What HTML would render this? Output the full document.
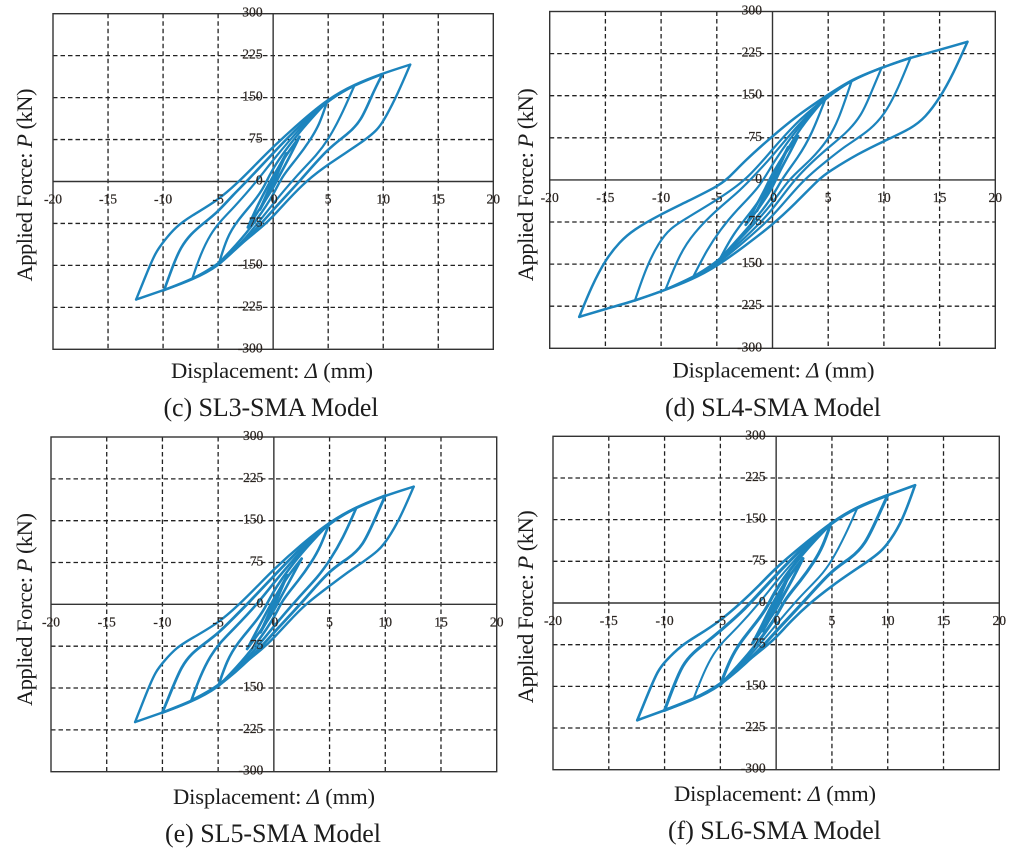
<!DOCTYPE html>
<html lang="en">
<head>
<meta charset="utf-8">
<title>Hysteresis curves of SL3 to SL6 SMA models</title>
<style>
html,body{margin:0;padding:0;background:#fff;width:1024px;height:858px;overflow:hidden}
svg{display:block;filter:blur(0.35px)}
text{font-family:"Liberation Serif",serif;fill:#1c1c1c}
.tick{font-size:13.6px;fill:#2a2420;stroke:#2a2420;stroke-width:0.2px}
.axis-title{font-size:22.6px}
.caption{font-size:26px}
</style>
</head>
<body>
<svg id="figure" xmlns="http://www.w3.org/2000/svg" width="1024" height="858" viewBox="0 0 1024 858"></svg>
<script>
const xTickLabels = [-20, -15, -10, -5, 0, 5, 10, 15, 20];
const yTickLabels = [300, 225, 150, 75, 0, -75, -150, -225, -300];

const sl3Reload = [
  [[-1.2,-50],[-0.5,-20],[0.2,15],[1.2,50]],
  [[-2.3,-82],[-1.5,-46],[-0.6,-12],[0,10],[1.2,48],[2.4,80]],
  [[-4.9,-145],[-4.2,-100],[-3.3,-71],[-1.7,-35],[-0.8,-10],[0,27],[2.5,92],[4.9,143]],
  [[-7.35,-174],[-6.6,-130],[-5.7,-94],[-4.8,-71],[-3.6,-47],[-1.7,-5],[0,39],[2.5,97],[4.9,145],[7.4,172]],
  [[-9.9,-194],[-9,-145],[-8.4,-118],[-7.5,-94],[-6.3,-74],[-5.1,-56],[-3.6,-23],[-2.4,0],[0,51],[2.5,102],[5,146],[7.4,173],[9.9,192]],
  [[-12.45,-211],[-11.4,-160],[-10.7,-127],[-9.9,-106],[-8.9,-82],[-7.5,-62],[-5.1,-35],[-3.2,-2],[-1.5,32],[0,62],[2.5,107],[5,148],[7.4,174],[9.9,193],[12.45,209]]
];
const sl3Unload = [
  [[1.2,50],[0.5,20],[-0.2,-15],[-1.2,-50]],
  [[2.4,80],[1.5,44],[0.6,12],[0,-12],[-1.2,-48],[-2.3,-82]],
  [[4.8,137],[4.2,102],[3.4,75],[2.2,42],[0.7,7],[0,-27],[-2.5,-96],[-4.9,-145]],
  [[7.35,170],[6.1,114],[5,75],[4,48],[2.2,12],[0,-39],[-2.5,-103],[-4.9,-148],[-7.35,-174]],
  [[9.9,191],[9,156],[8,108],[6.75,84],[5,60],[2.5,2],[0,-50],[-1.7,-90],[-4.9,-149],[-7.35,-175],[-9.9,-194]],
  [[12.45,209],[11.3,156],[10.2,114],[9.5,92],[8,69],[5,31],[3,1],[1.3,-34],[0,-62],[-0.9,-80],[-3.3,-117],[-4.9,-151],[-7.35,-176],[-9.9,-194],[-12.45,-211]]
];

const sl4Reload = [
  [[-1.4,-55],[-0.6,-24],[0.2,14],[1.4,58]],
  [[-2.4,-80],[-1.5,-47],[-0.6,-14],[0,12],[1.2,50],[2.3,78]],
  [[-4.7,-140],[-3.5,-95],[-2,-59],[-0.5,-18],[0,10],[0.6,30],[2.5,94],[4.8,147]],
  [[-7.1,-172],[-5.9,-125],[-4.7,-89],[-3.2,-53],[-1.1,-12],[0,30],[2.5,99],[4.8,148],[7.1,176]],
  [[-9.6,-195],[-8.3,-131],[-7.1,-95],[-5,-53],[-3.2,-24],[-2,0],[0,42],[2.5,104],[5,149],[7.1,178],[9.8,200]],
  [[-12.35,-215],[-11.3,-154],[-10.25,-113],[-9.2,-86],[-7.7,-68],[-5,-36],[-2.3,0],[0,55],[2.5,110],[5,150],[7.1,178],[9.8,200],[12.4,218]],
  [[-17.35,-244],[-16.25,-190],[-15,-142],[-13.7,-110],[-12.5,-89],[-10.1,-62],[-7.7,-39],[-5,-12],[-4.1,0],[-2.5,34],[0,78],[2.3,116],[5,152],[7.1,179],[9.8,200],[12.4,218],[14.9,231],[17.5,246]]
];
const sl4Unload = [
  [[1.4,58],[0.6,24],[-0.2,-14],[-1.4,-55]],
  [[2.3,78],[1.5,46],[0.6,14],[0,-14],[-1.2,-50],[-2.4,-80]],
  [[4.8,147],[3.5,80],[2.3,40],[0.8,1],[0,-31],[-1.9,-79],[-4.7,-140]],
  [[7.1,176],[5.9,105],[5,72],[3.5,36],[1.4,1],[0,-43],[-2.5,-97],[-4.9,-146],[-7.1,-172]],
  [[9.8,200],[8.9,158],[8,114],[6.5,81],[5,58],[2,4],[0,-55],[-2.5,-104],[-5,-148],[-7.1,-173],[-9.6,-195]],
  [[12.4,218],[11.3,164],[10.1,117],[8.6,86],[6.5,60],[5,36],[2.6,-2],[0,-67],[-2.9,-116],[-5,-151],[-7.1,-174],[-9.6,-196],[-12.35,-215]],
  [[17.5,246],[16.25,190],[15,145],[13.7,111],[12.5,92],[10.1,70],[7.7,47],[5,14],[4.3,4],[2,-43],[0,-80],[-2.5,-118],[-5,-154],[-7.25,-178],[-10,-199],[-12.5,-216],[-15,-230],[-17.35,-244]]
];

const sl5Reload = [
  [[-1.2,-50],[-0.5,-20],[0.2,15],[1.2,52]],
  [[-2.4,-80],[-1.5,-46],[-0.6,-12],[0,10],[1.2,50],[2.5,82]],
  [[-5,-147],[-4.2,-100],[-3.3,-70],[-1.7,-33],[-0.8,-8],[0,27],[2.5,94],[5,146]],
  [[-7.4,-172],[-6.6,-128],[-5.7,-92],[-4.8,-68],[-3.6,-44],[-1.5,0],[0,39],[2.5,98],[5,147],[7.4,173]],
  [[-10,-194],[-9,-145],[-8.3,-112],[-7.4,-88],[-6.2,-70],[-5,-52],[-3.5,-22],[-2.4,0],[0,51],[2.5,103],[5,148],[7.4,174],[10,195]],
  [[-12.45,-211],[-11.3,-152],[-10.6,-120],[-9.9,-103],[-8.8,-78],[-7.3,-60],[-5,-34],[-3.1,0],[-1.5,32],[0,63],[2.5,108],[5,148],[7.4,175],[10,195],[12.55,211]]
];
const sl5Unload = [
  [[1.2,52],[0.5,20],[-0.2,-15],[-1.2,-50]],
  [[2.5,82],[1.5,45],[0.6,12],[0,-12],[-1.2,-48],[-2.4,-80]],
  [[5,146],[4.2,104],[3.4,76],[2.2,42],[0.7,7],[0,-27],[-2.5,-96],[-5,-147]],
  [[7.4,173],[6.2,118],[5,78],[4,50],[2.2,12],[0,-39],[-2.5,-102],[-5,-148],[-7.4,-172]],
  [[10,195],[9,150],[8,105],[6.7,82],[5,62],[2.5,2],[0,-50],[-1.7,-90],[-5,-149],[-7.5,-175],[-10,-194]],
  [[12.55,211],[11.3,153],[10.2,116],[9.4,96],[8,76],[6.8,60],[5,33],[2.8,0],[1.3,-32],[0,-60],[-0.9,-78],[-3.3,-116],[-5,-150],[-7.5,-176],[-10,-194],[-12.45,-211]]
];

const sl6Reload = [
  [[-1.2,-50],[-0.5,-20],[0.2,15],[1.2,52]],
  [[-2.1,-72],[-1.3,-42],[-0.6,-12],[0,10],[1.2,50],[2.4,80]],
  [[-5,-147],[-4.1,-100],[-3.2,-70],[-1.7,-33],[-0.8,-8],[0,27],[2.5,93],[4.9,143]],
  [[-7.4,-172],[-6.5,-125],[-5.6,-90],[-4.7,-68],[-3.5,-45],[-1.5,0],[0,39],[2.5,97],[4.9,145],[7.3,172]],
  [[-10,-193],[-9.1,-145],[-8.4,-112],[-7.5,-90],[-6.2,-70],[-5,-50],[-3.4,-22],[-2.3,0],[0,51],[2.5,102],[5,146],[7.3,173],[10,194]],
  [[-12.45,-211],[-11.3,-154],[-10.6,-122],[-10,-106],[-8.5,-76],[-7,-58],[-5.2,-35],[-3.1,1],[-1.5,32],[0,64],[2.5,106],[5,146],[7.3,174],[10,194],[12.45,212]]
];
const sl6Unload = [
  [[1.2,52],[0.5,20],[-0.2,-15],[-1.2,-50]],
  [[2.4,80],[1.5,44],[0.6,12],[0,-12],[-1.2,-46],[-2.1,-72]],
  [[4.9,143],[4.2,102],[3.4,74],[2.2,40],[0.7,5],[0,-27],[-2.5,-94],[-5,-147]],
  [[7.3,172],[6.2,122],[5,76],[4,48],[2,9],[0,-39],[-2.5,-100],[-5,-148],[-7.4,-172]],
  [[10,194],[9,150],[8,106],[6.7,80],[5,60],[2.4,0],[0,-50],[-1.7,-90],[-5,-149],[-7.5,-174],[-10,-193]],
  [[12.45,212],[11.3,147],[10.2,112],[9.4,92],[8,72],[6.8,56],[5,31],[2.9,-2],[1.3,-33],[0,-62],[-0.9,-78],[-3.3,-116],[-5,-150],[-7.5,-175],[-10,-193],[-12.45,-211]]
];

const xDomain = [-20, 20];
const yDomain = [-300, 300];
const svgNS = 'http://www.w3.org/2000/svg';
const figure = document.getElementById('figure');

function makeLine(parent, x1, y1, x2, y2, color, width, dash) {
  const el = document.createElementNS(svgNS, 'line');
  el.setAttribute('x1', x1);
  el.setAttribute('y1', y1);
  el.setAttribute('x2', x2);
  el.setAttribute('y2', y2);
  el.setAttribute('stroke', color);
  el.setAttribute('stroke-width', width);
  if (dash) el.setAttribute('stroke-dasharray', dash);
  parent.appendChild(el);
  return el;
}

function smoothPath(points, sx, sy) {
  const raw = points.map(function (p) { return [sx(p[0]), sy(p[1])]; });
  const first = raw[0];
  const last = raw[raw.length - 1];
  const pts = [first, first].concat(raw, [last, last]);
  let d = 'M' + first[0].toFixed(2) + ' ' + first[1].toFixed(2);
  for (let i = 1; i < pts.length - 2; i++) {
    const a = pts[i - 1];
    const b = pts[i];
    const c = pts[i + 1];
    const e = pts[i + 2];
    const c1x = (2 * b[0] + c[0]) / 3;
    const c1y = (2 * b[1] + c[1]) / 3;
    const c2x = (b[0] + 2 * c[0]) / 3;
    const c2y = (b[1] + 2 * c[1]) / 3;
    const endx = (b[0] + 4 * c[0] + e[0]) / 6;
    const endy = (b[1] + 4 * c[1] + e[1]) / 6;
    d += 'C' + c1x.toFixed(2) + ' ' + c1y.toFixed(2) + ' ' + c2x.toFixed(2) + ' ' + c2y.toFixed(2) + ' ' + endx.toFixed(2) + ' ' + endy.toFixed(2);
  }
  return d;
}

function drawBranch(parent, points, sx, sy, width) {
  const el = document.createElementNS(svgNS, 'path');
  
  
  el.setAttribute('d', smoothPath(points, sx, sy));
  el.setAttribute('fill', 'none');
  el.setAttribute('stroke', '#1c84bd');
  el.setAttribute('stroke-width', width);
  el.setAttribute('stroke-linejoin', 'round');
  el.setAttribute('stroke-linecap', 'round');
  parent.appendChild(el);
}

function drawPanel(cfg) {
  const g = document.createElementNS(svgNS, 'g');
  
  
  figure.appendChild(g);

  const sx = function (v) { return cfg.left + (v - xDomain[0]) / (xDomain[1] - xDomain[0]) * (cfg.right - cfg.left); };
  const sy = function (v) { return cfg.bottom - (v - yDomain[0]) / (yDomain[1] - yDomain[0]) * (cfg.bottom - cfg.top); };

  xTickLabels.forEach(function (v) {
    if (v === xDomain[0] || v === xDomain[1] || v === 0) return;
    const line = makeLine(g, sx(v), cfg.top, sx(v), cfg.bottom, '#222', 1.3, '4.5 3');
    
    
  });
  yTickLabels.forEach(function (v) {
    if (v === yDomain[0] || v === yDomain[1] || v === 0) return;
    const line = makeLine(g, cfg.left, sy(v), cfg.right, sy(v), '#222', 1.3, '4.5 3');
    
    
  });

  const xAxis = makeLine(g, cfg.left, sy(0), cfg.right, sy(0), '#333', 1.4);
  
  
  const yAxis = makeLine(g, sx(0), cfg.top, sx(0), cfg.bottom, '#333', 1.4);
  
  

  const frame = document.createElementNS(svgNS, 'rect');
  
  
  frame.setAttribute('x', cfg.left);
  frame.setAttribute('y', cfg.top);
  frame.setAttribute('width', cfg.right - cfg.left);
  frame.setAttribute('height', cfg.bottom - cfg.top);
  frame.setAttribute('fill', 'none');
  frame.setAttribute('stroke', '#333');
  frame.setAttribute('stroke-width', 1.4);
  g.appendChild(frame);

  cfg.reload.forEach(function (loop, i) {
    drawBranch(g, loop, sx, sy, cfg.widths[i]);
  });
  cfg.unload.forEach(function (loop, i) {
    drawBranch(g, loop, sx, sy, cfg.widths[i]);
  });

  xTickLabels.forEach(function (v) {
    const t = document.createElementNS(svgNS, 'text');
    
    
    t.setAttribute('class', 'tick');
    t.setAttribute('x', sx(v) + (v === 0 ? 1 : 0));
    t.setAttribute('y', sy(0) + 22);
    t.setAttribute('text-anchor', 'middle');
    t.textContent = v;
    g.appendChild(t);
  });
  yTickLabels.forEach(function (v) {
    const t = document.createElementNS(svgNS, 'text');
    
    
    t.setAttribute('class', 'tick');
    t.setAttribute('x', sx(0) - 10.5);
    t.setAttribute('y', sy(v) + 3);
    t.setAttribute('text-anchor', 'end');
    t.textContent = v;
    g.appendChild(t);
  });

  const xt = document.createElementNS(svgNS, 'text');
  
  
  xt.setAttribute('class', 'axis-title');
  xt.setAttribute('x', cfg.xTitle[0]);
  xt.setAttribute('y', cfg.xTitle[1]);
  xt.setAttribute('text-anchor', 'middle');
  xt.setAttribute('textLength', 202);
  xt.innerHTML = 'Displacement: <tspan font-style="italic">Δ</tspan> (mm)';
  g.appendChild(xt);

  const yt = document.createElementNS(svgNS, 'text');
  
  
  yt.setAttribute('class', 'axis-title');
  yt.setAttribute('text-anchor', 'middle');
  yt.setAttribute('textLength', 193);
  yt.setAttribute('transform', 'translate(' + cfg.yTitle[0] + ' ' + cfg.yTitle[1] + ') rotate(-90)');
  yt.innerHTML = 'Applied Force: <tspan font-style="italic">P</tspan> (kN)';
  g.appendChild(yt);

  const cap = document.createElementNS(svgNS, 'text');
  
  
  cap.setAttribute('class', 'caption');
  cap.setAttribute('x', cfg.capPos[0]);
  cap.setAttribute('y', cfg.capPos[1]);
  cap.setAttribute('text-anchor', 'middle');
  cap.setAttribute('textLength', cfg.capLen);
  cap.textContent = cfg.caption;
  g.appendChild(cap);
}

drawPanel({
  name: 'panel-sl3-sma', left: 53, right: 493.3, top: 13.7, bottom: 349.3,
  reload: sl3Reload, unload: sl3Unload, widths: [2.8, 2.6, 2.4, 2.2, 2.6, 2.4],
  xTitle: [272, 378], yTitle: [32, 185], capPos: [271, 416], capLen: 215,
  caption: '(c) SL3-SMA Model'
});
drawPanel({
  name: 'panel-sl4-sma', left: 549.7, right: 995.3, top: 11.5, bottom: 348.3,
  reload: sl4Reload, unload: sl4Unload, widths: [2.8, 2.6, 2.3, 2.2, 2.2, 2.2, 2.5],
  xTitle: [773.5, 377.7], yTitle: [533, 184.7], capPos: [773, 416], capLen: 216,
  caption: '(d) SL4-SMA Model'
});
drawPanel({
  name: 'panel-sl5-sma', left: 51, right: 496.7, top: 437, bottom: 771.7,
  reload: sl5Reload, unload: sl5Unload, widths: [2.8, 2.6, 2.6, 2.6, 2.8, 2.4],
  xTitle: [274, 804], yTitle: [32, 609.5], capPos: [273, 842], capLen: 216,
  caption: '(e) SL5-SMA Model'
});
drawPanel({
  name: 'panel-sl6-sma', left: 553, right: 999.3, top: 436.3, bottom: 769.7,
  reload: sl6Reload, unload: sl6Unload, widths: [3, 3, 3.1, 2, 3.1, 2.6],
  xTitle: [775, 801], yTitle: [533, 606.7], capPos: [774.5, 839], capLen: 213,
  caption: '(f) SL6-SMA Model'
});
</script>
</body>
</html>
